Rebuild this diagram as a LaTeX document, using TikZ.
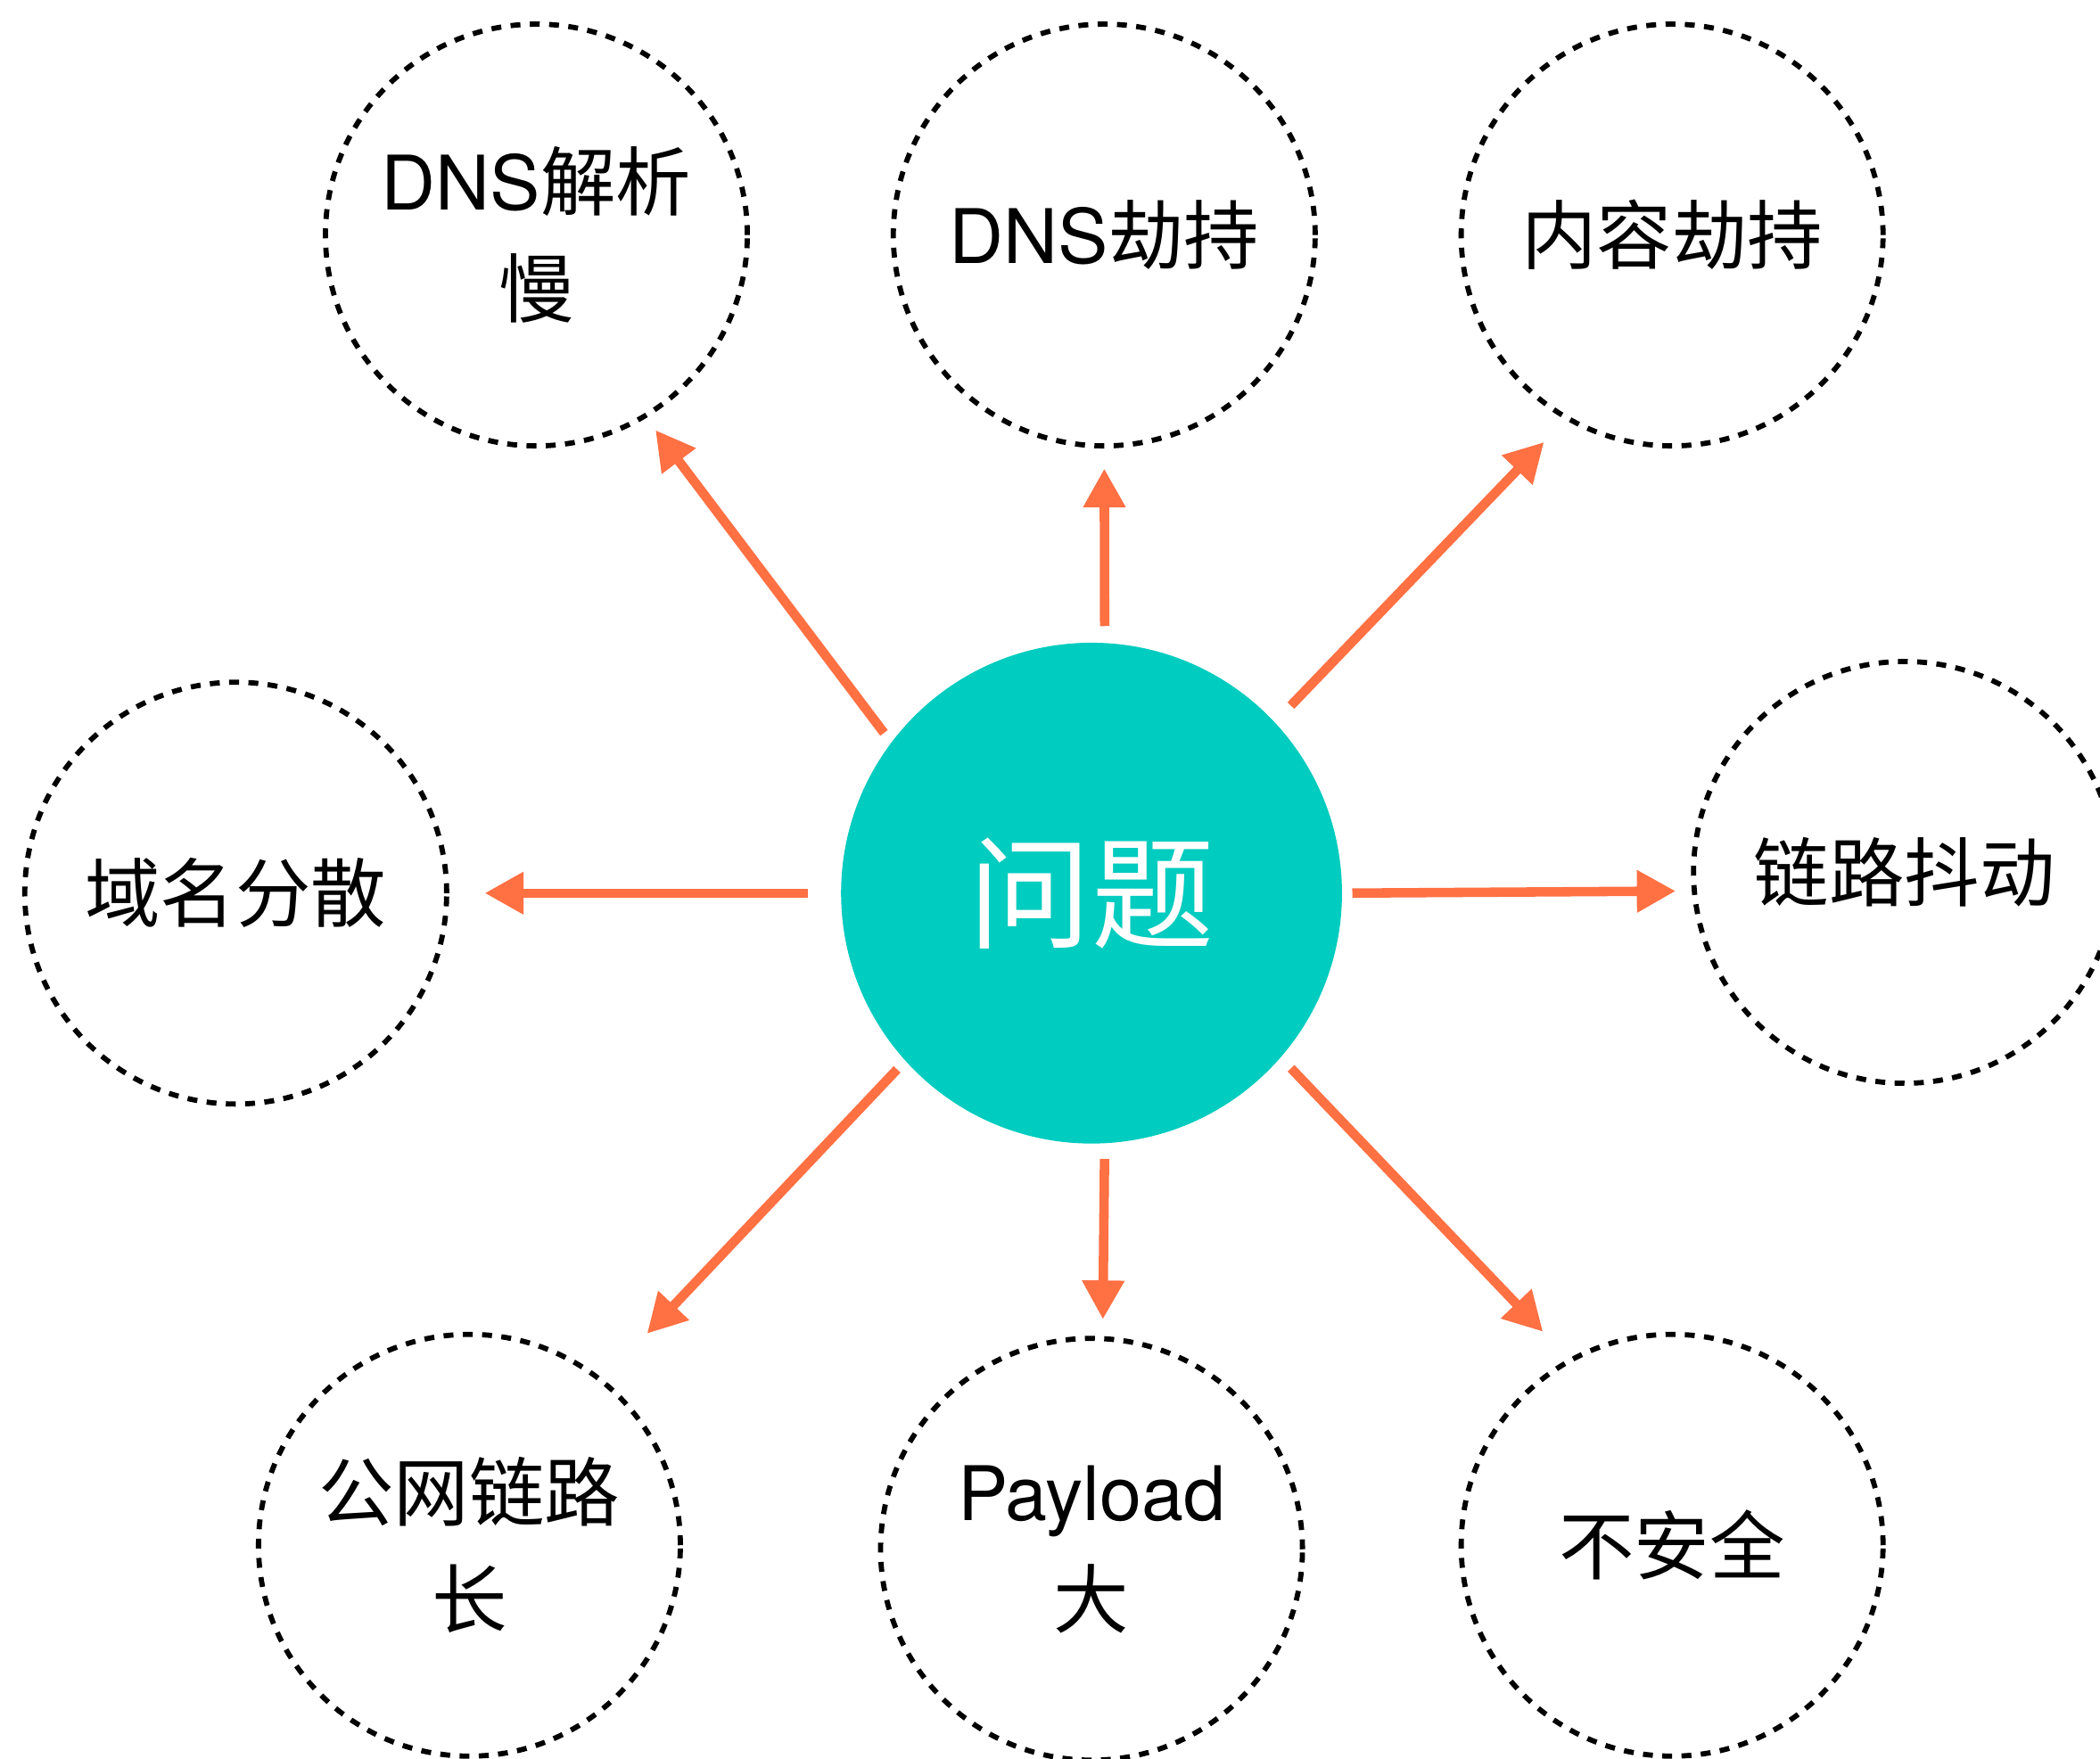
\documentclass[tikz,border=0pt]{standalone}
\usepackage{fontspec}
\setmainfont{Noto Sans CJK SC}
\newfontfamily\lat{TeX Gyre Heros}
\usetikzlibrary{arrows.meta}

\definecolor{qteal}{RGB}{0,204,191}
\definecolor{qorange}{RGB}{255,112,67}

\begin{document}
\begin{tikzpicture}[
    issue/.style={circle, draw=black, line width=1.1pt, dash pattern=on 2.1pt off 2pt,
      minimum size=3.15cm, inner sep=0pt, align=center, font=\fontsize{16}{22.8}\selectfont},
    core/.style={circle, fill=qteal, minimum size=3.74cm, inner sep=0pt, text=white,
      font=\fontsize{26}{30}\selectfont},
    arr/.style={qorange, line width=2pt, -{Triangle[length=0.29cm,width=0.3cm]}}
  ]

    \useasboundingbox (0,0) rectangle (15.68,-13.13);

    % centre
    \node[core] (q) at (8.15,-6.67) {问题};

    % problems round it
    \node[issue] (slow) at (4.005,-1.755) {{\lat DNS}解析\\慢};
    \node[issue] (dnshj) at (8.245,-1.755) {{\lat DNS}劫持};
    \node[issue] (conthj) at (12.485,-1.755) {内容劫持};
    \node[issue] (domain) at (1.76,-6.67) {域名分散};
    \node[issue] (jitter) at (14.22,-6.515) {链路抖动};
    \node[issue] (route) at (3.505,-11.54) {公网链路\\长};
    \node[issue] (payload) at (8.15,-11.57) {{\lat Payload}\\大};
    \node[issue] (unsafe) at (12.485,-11.54) {不安全};

    % arrows out of the centre
    \foreach \n/\a/\b/\s/\t in {slow/143.9/-59.6/0.084cm/0.113cm,
        dnshj/87.5/-90/0.12cm/0.15cm, conthj/43.8/-120.5/0.167cm/0.23cm,
        domain/180/0/0.24cm/0.265cm, jitter/0/185.6/0.07cm/0.12cm,
        route/222.5/51.8/0.083cm/0.47cm, payload/-87.4/87/0.11cm/0.125cm,
        unsafe/-41.9/119.6/0.106cm/0.277cm}
      \draw[arr, shorten <=\s, shorten >=\t] (q.\a) -- (\n.\b);
  \end{tikzpicture}
\end{document}
